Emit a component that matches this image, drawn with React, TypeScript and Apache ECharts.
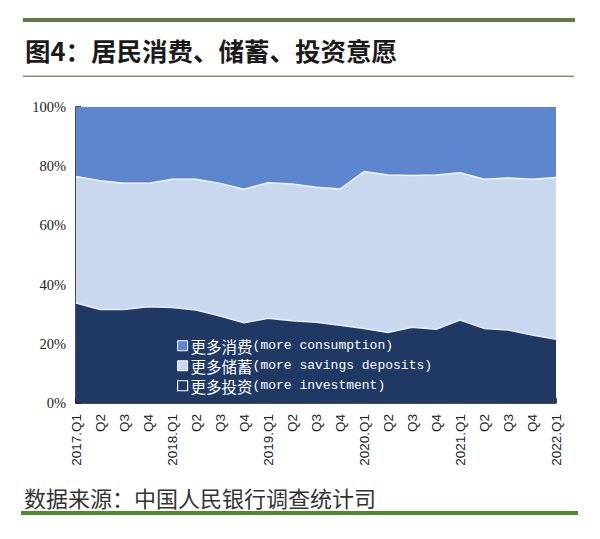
import React, { useEffect, useRef } from "react";
import * as echarts from "echarts";

const categories = [
  "2017.Q1", "Q2", "Q3", "Q4",
  "2018.Q1", "Q2", "Q3", "Q4",
  "2019.Q1", "Q2", "Q3", "Q4",
  "2020.Q1", "Q2", "Q3", "Q4",
  "2021.Q1", "Q2", "Q3", "Q4",
  "2022.Q1",
];

const investment = [33.8, 31.6, 31.6, 32.5, 32.3, 31.4, 29.4, 27.1, 28.6, 27.8, 27.3, 26.3, 25.2, 23.8, 25.6, 24.9, 28.0, 25.2, 24.7, 23.0, 21.5];
const savings = [42.7, 43.5, 42.6, 41.7, 43.3, 44.2, 44.8, 45.1, 45.8, 46.2, 45.6, 46.0, 53.0, 53.2, 51.3, 52.1, 49.8, 50.4, 51.3, 52.6, 54.7];
const consumption = [23.5, 24.9, 25.8, 25.8, 24.4, 24.4, 25.8, 27.8, 25.6, 26.0, 27.1, 27.7, 21.8, 23.0, 23.1, 23.0, 22.2, 24.4, 24.0, 24.4, 23.8];

const seriesNames = [
  "更多消费(more consumption)",
  "更多储蓄(more savings deposits)",
  "更多投资(more investment)",
];

const yTicks = [0, 20, 40, 60, 80, 100];

const COLORS = {
  consumption: "#5d86cf",
  savings: "#c9d7ef",
  investment: "#1f3864",
};

export default function App() {
  const ref = useRef<HTMLDivElement>(null);

  useEffect(() => {
    document.body.style.margin = "0";
    document.body.style.overflow = "hidden";
    if (!ref.current) return;
    const chart = echarts.init(ref.current, null, { renderer: "svg" });
    const cjk = "'Noto Sans CJK SC', sans-serif";
    const option: any = {
      animation: false,
      backgroundColor: "#ffffff",
      grid: { left: 76, right: 44, top: 107, bottom: 136, containLabel: false },
      legend: {
        z: 20,
        zlevel: 0,
        orient: "vertical",
        left: 172,
        top: 333,
        itemWidth: 10,
        itemHeight: 10,
        itemGap: 4.5,
        icon: "rect",
        selectedMode: false,
        data: [
          { name: seriesNames[0], itemStyle: { color: COLORS.consumption, borderColor: "#ffffff", borderWidth: 1 } },
          { name: seriesNames[1], itemStyle: { color: COLORS.savings, borderColor: "#ffffff", borderWidth: 1 } },
          { name: seriesNames[2], itemStyle: { color: COLORS.investment, borderColor: "#ffffff", borderWidth: 1.2 } },
        ],
        formatter: (name: string) => {
          const i = name.indexOf("(");
          return "{cn|" + name.slice(0, i) + "}{en|" + name.slice(i) + "}";
        },
        textStyle: {
          color: "#ffffff",
          padding: [0, 0, 0, -2],
          rich: {
            cn: { fontFamily: cjk, fontSize: 15.5, color: "#ffffff", lineHeight: 15 },
            en: { fontFamily: "'Liberation Mono', 'DejaVu Sans Mono', monospace", fontSize: 13, color: "#ffffff", lineHeight: 15 },
          },
        },
      },
      xAxis: {
        type: "category",
        data: categories,
        boundaryGap: false,
        axisLine: { show: true, lineStyle: { color: "#111111", width: 1.5 } },
        axisTick: { show: true, inside: true, length: 5, alignWithLabel: true, lineStyle: { color: "#111111", width: 1.5 } },
        axisLabel: {
          rotate: 90,
          interval: 0,
          margin: 11,
          color: "#222222",
          fontFamily: "'Liberation Sans', Arial, sans-serif",
          fontSize: 13.5,
        },
        splitLine: { show: false },
      },
      yAxis: {
        type: "value",
        min: 0,
        max: 100,
        interval: 20,
        axisLine: { show: true, lineStyle: { color: "#111111", width: 1.5 } },
        axisTick: { show: true, inside: true, length: 5, lineStyle: { color: "#111111", width: 1.5 } },
        axisLabel: {
          margin: 10,
          color: "#222222",
          fontFamily: "'Liberation Serif', 'Times New Roman', serif",
          fontSize: 14.5,
          formatter: (v: number) => (yTicks.includes(v) ? v + "%" : ""),
        },
        splitLine: { show: false },
      },
      series: [
        {
          name: seriesNames[2],
          type: "line",
          stack: "total",
          data: investment,
          symbol: "none",
          z: 4,
          itemStyle: { color: COLORS.investment },
          lineStyle: { color: "#e8eefa", width: 1.5 },
          areaStyle: { color: COLORS.investment, opacity: 1 },
        },
        {
          name: seriesNames[1],
          type: "line",
          stack: "total",
          data: savings,
          symbol: "none",
          z: 3,
          itemStyle: { color: COLORS.savings },
          lineStyle: { color: "#f4f7fd", width: 1.5 },
          areaStyle: { color: COLORS.savings, opacity: 1 },
        },
        {
          name: seriesNames[0],
          type: "line",
          stack: "total",
          data: consumption,
          symbol: "none",
          z: 2,
          itemStyle: { color: COLORS.consumption },
          lineStyle: { width: 0 },
          areaStyle: { color: COLORS.consumption, opacity: 1 },
        },
      ],
      graphic: [
        {
          type: "rect",
          shape: { x: 23, y: 18, width: 552, height: 4 },
          style: { fill: "#5c7c46" },
        },
        {
          type: "text",
          left: 25,
          top: 37,
          style: {
            text: "图4：居民消费、储蓄、投资意愿",
            fontFamily: "'Noto Sans CJK SC', sans-serif",
            fontWeight: "bold",
            fontSize: 25.5,
            fill: "#1a1a1a",
          },
        },
        {
          type: "rect",
          shape: { x: 23, y: 75.5, width: 551, height: 1.5 },
          style: { fill: "#7f9a70" },
        },
        {
          type: "text",
          left: 24,
          top: 486,
          style: {
            text: "数据来源：中国人民银行调查统计司",
            fontFamily: "'Noto Sans CJK SC', sans-serif",
            fontSize: 22,
            fill: "#333333",
          },
        },
        {
          type: "rect",
          shape: { x: 21, y: 511, width: 557, height: 4 },
          style: { fill: "#4d8a2c" },
        },
      ],
    };
    chart.setOption(option);
    return () => chart.dispose();
  }, []);

  return <div ref={ref} style={{ width: 600, height: 539 }} />;
}
